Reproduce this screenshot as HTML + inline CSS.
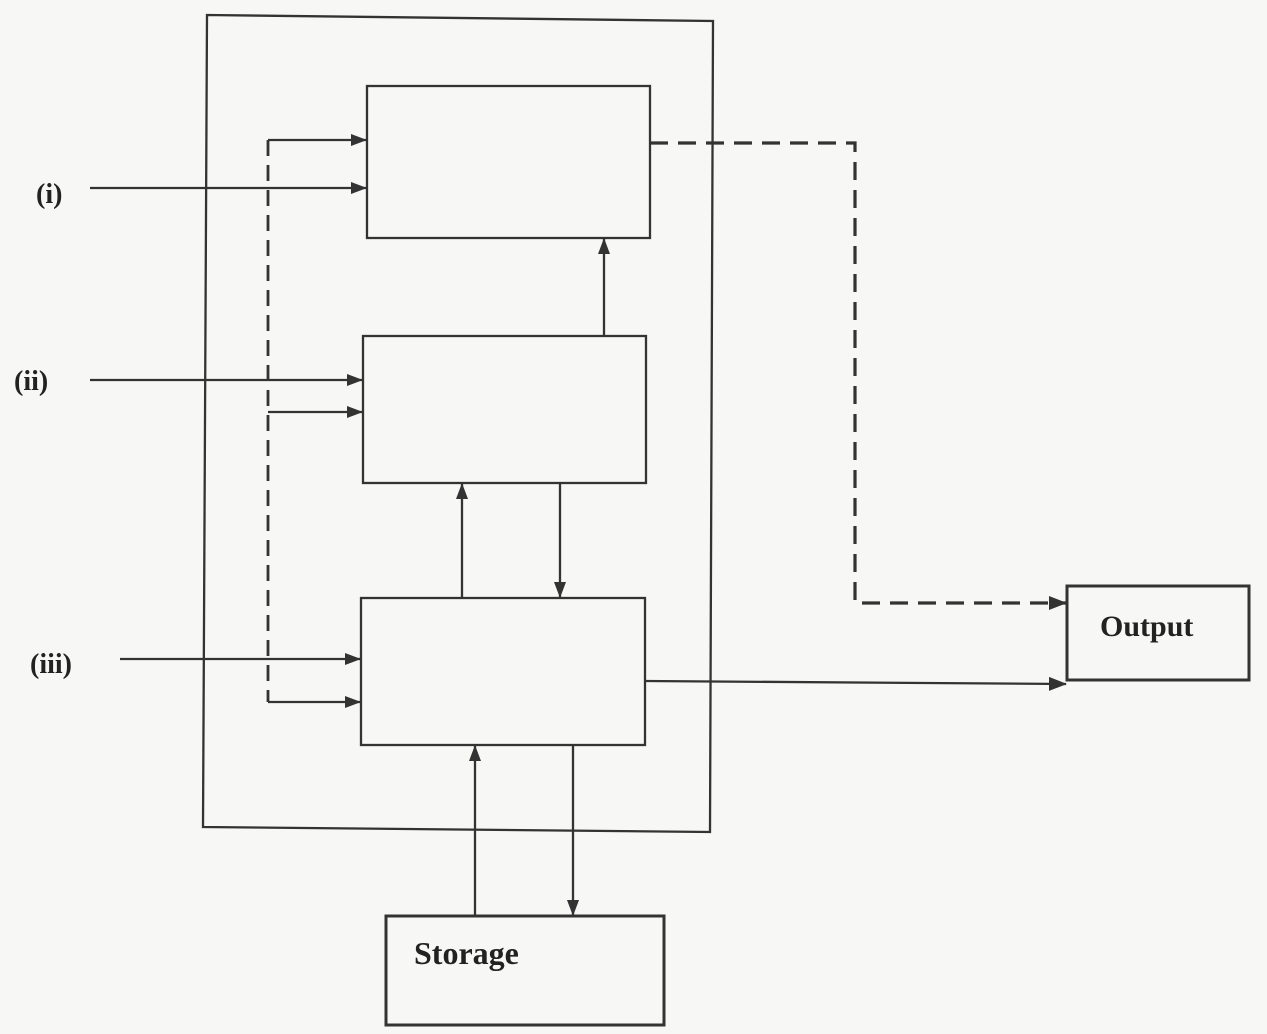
<!DOCTYPE html>
<html><head><meta charset="utf-8"><style>
html,body{margin:0;padding:0;background:#f7f7f5;}
svg{display:block}
text{font-family:"Liberation Serif",serif;fill:#222;}
</style></head><body>
<svg width="1267" height="1034" viewBox="0 0 1267 1034" xmlns="http://www.w3.org/2000/svg">
<defs>
<marker id="ah" markerWidth="16" markerHeight="12" refX="15" refY="6" orient="auto" markerUnits="userSpaceOnUse">
<path d="M0,0 L16,6 L0,12 z" fill="#333"/>
</marker>
<marker id="ahb" markerWidth="18" markerHeight="14" refX="17" refY="7" orient="auto" markerUnits="userSpaceOnUse">
<path d="M0,0 L18,7 L0,14 z" fill="#333"/>
</marker>
</defs>
<g fill="none" stroke="#333" stroke-width="2.3">
<path d="M207,15 L713,21 L710,832 L203,827 Z"/>
<rect x="367" y="86" width="283" height="152"/>
<rect x="363" y="336" width="283" height="147"/>
<rect x="361" y="598" width="284" height="147"/>
<rect x="1067" y="586" width="182" height="94" stroke-width="3"/>
<rect x="386" y="916" width="278" height="109" stroke-width="3"/>
<line x1="90" y1="188" x2="366" y2="188" marker-end="url(#ah)"/>
<line x1="90" y1="380" x2="362" y2="380" marker-end="url(#ah)"/>
<line x1="120" y1="659" x2="360" y2="659" marker-end="url(#ah)"/>
<line x1="268" y1="140" x2="268" y2="702" stroke-dasharray="16,9" stroke-width="2.8"/>
<line x1="268" y1="140" x2="366" y2="140" marker-end="url(#ah)"/>
<line x1="268" y1="412" x2="362" y2="412" marker-end="url(#ah)"/>
<line x1="268" y1="702" x2="360" y2="702" marker-end="url(#ah)"/>
<path d="M650,143 L855,143 L855,603 L1066,603" stroke-dasharray="18,10" stroke-width="3.2" marker-end="url(#ahb)"/>
<line x1="604" y1="336" x2="604" y2="239" marker-end="url(#ah)"/>
<line x1="462" y1="598" x2="462" y2="484" marker-end="url(#ah)"/>
<line x1="560" y1="483" x2="560" y2="597" marker-end="url(#ah)"/>
<line x1="645" y1="681" x2="1066" y2="684" marker-end="url(#ahb)"/>
<line x1="475" y1="916" x2="475" y2="746" marker-end="url(#ah)"/>
<line x1="573" y1="745" x2="573" y2="915" marker-end="url(#ah)"/>
</g>
<text x="36" y="203" font-size="28" font-weight="bold">(i)</text>
<text x="14" y="390" font-size="28" font-weight="bold">(ii)</text>
<text x="30" y="673" font-size="28" font-weight="bold">(iii)</text>
<text x="1100" y="636" font-size="30" font-weight="bold">Output</text>
<text x="414" y="964" font-size="32" font-weight="bold">Storage</text>
</svg>
</body></html>
